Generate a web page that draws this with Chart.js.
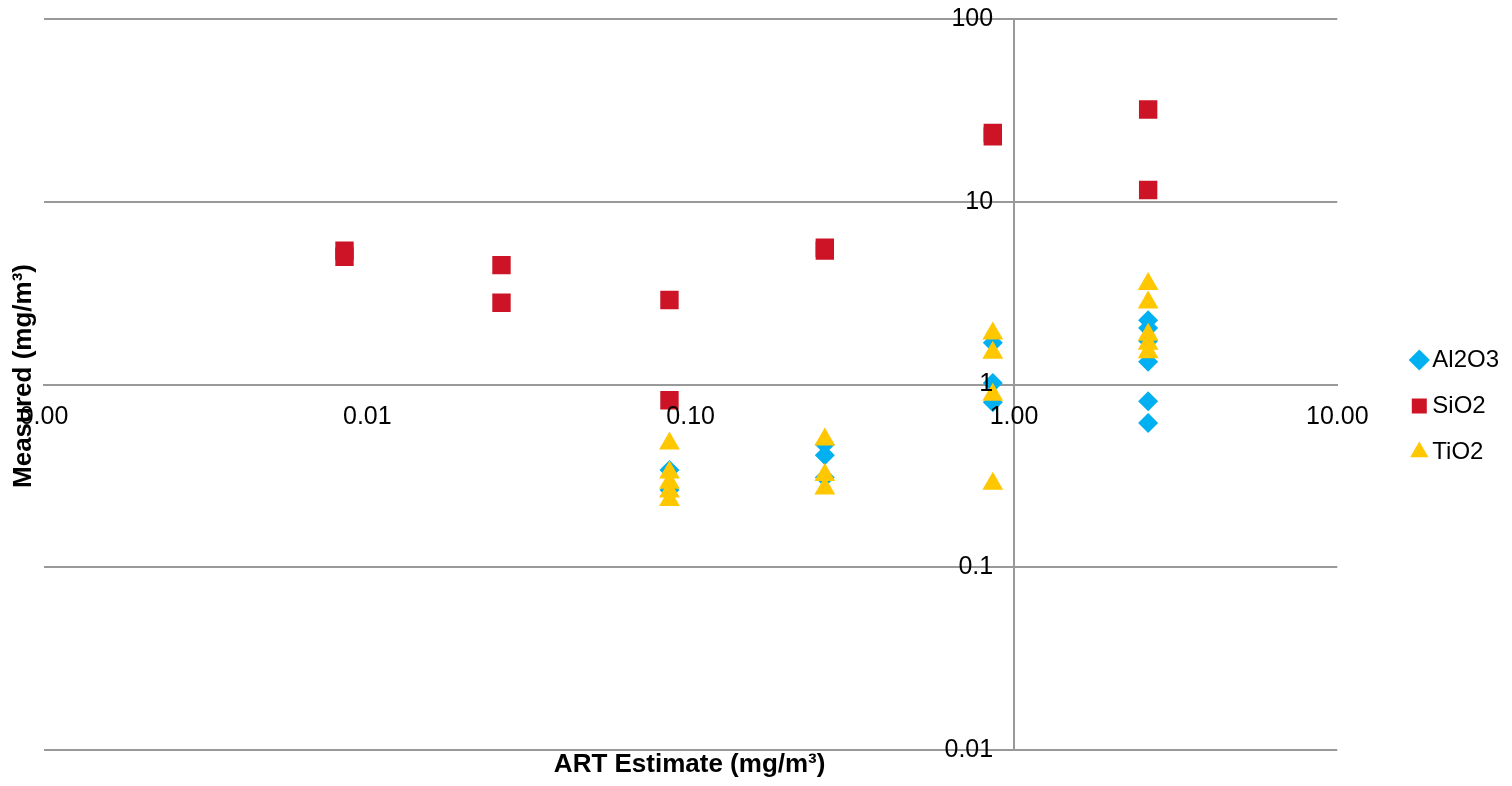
<!DOCTYPE html>
<html>
<head>
<meta charset="utf-8">
<title>ART Estimate vs Measured</title>
<script src="https://cdn.jsdelivr.net/npm/chart.js@4.4.0/dist/chart.umd.min.js"></script>
<style>
  html, body { margin: 0; padding: 0; background: #fff; }
  #wrap { width: 1512px; height: 786px; }
</style>
</head>
<body>
<div id="wrap"><canvas id="myChart"></canvas></div>
<script>
// ART estimate (x) and measured (y) values, mg/m3
const al2o3X = [0.086, 0.086, 0.26, 0.26, 0.26, 0.86, 0.86, 0.86, 2.6, 2.6, 2.6, 2.6, 2.6, 2.6];
const al2o3Y = [0.34, 0.265, 0.47, 0.41, 0.31, 1.69, 1.02, 0.80, 2.25, 2.04, 1.73, 1.33, 0.81, 0.615];

const sio2X = [0.0085, 0.0085, 0.026, 0.026, 0.086, 0.086, 0.26, 0.26, 0.86, 0.86, 2.6, 2.6];
const sio2Y = [5.4, 5.0, 4.5, 2.8, 2.9, 0.82, 5.6, 5.4, 23.8, 22.8, 32, 11.6];

const tio2X = [0.086, 0.086, 0.086, 0.086, 0.086, 0.26, 0.26, 0.26, 0.86, 0.86, 0.86, 0.86, 2.6, 2.6, 2.6, 2.6, 2.6];
const tio2Y = [0.475, 0.33, 0.29, 0.26, 0.233, 0.50, 0.32, 0.27, 1.90, 1.49, 0.88, 0.286, 3.55, 2.81, 1.87, 1.67, 1.50];

const xTicks = [0.001, 0.01, 0.1, 1, 10];
const xTickLabels = ['0.00', '0.01', '0.10', '1.00', '10.00'];
const yTicks = [0.01, 0.1, 1, 10, 100];
const yTickLabels = ['0.01', '0.1', '1', '10', '100'];

const xTitle = 'ART Estimate (mg/m³)';
const yTitle = 'Measured (mg/m³)';

const FONT = "'Liberation Sans', Arial, sans-serif";
Chart.defaults.font.family = FONT;
Chart.defaults.color = '#000';

function points(xs, ys) {
    return xs.map((x, i) => ({ x: x, y: ys[i] }));
}

// legend sits a bit away from the plot, like in the original
const legendShift = {
    id: 'legendShift',
    afterLayout(chart) {
        const lg = chart.legend;
        lg.left += 59;
        lg.right += 59;
        lg.top += 21.5;
        lg.bottom += 21.5;
    }
};

// axis titles drawn at the outer edges, since the axes cross at (1, 1)
const axisTitles = {
    id: 'axisTitles',
    afterDraw(chart) {
        const c = chart.ctx;
        const area = chart.chartArea;
        c.save();
        c.fillStyle = '#000';
        c.font = 'bold 26px ' + FONT;
        c.textAlign = 'center';
        c.textBaseline = 'middle';
        c.fillText(xTitle, (area.left + area.right) / 2 - 1, 765);
        c.translate(24, 376);
        c.rotate(-Math.PI / 2);
        c.fillText(yTitle, 0, 0);
        c.restore();
    }
};

const ctx = document.getElementById('myChart').getContext('2d');

let myChart = new Chart(ctx, {
    type: 'scatter',
    data: {
        datasets: [
            {
                label: 'Al2O3',
                data: points(al2o3X, al2o3Y),
                pointStyle: 'rectRot',
                pointRadius: 10,
                pointHoverRadius: 10,
                backgroundColor: '#00B0F0',
                pointBackgroundColor: '#00B0F0',
                pointBorderWidth: 0,
                borderWidth: 0,
                order: 2
            },
            {
                label: 'SiO2',
                data: points(sio2X, sio2Y),
                pointStyle: 'rect',
                pointRadius: 13,
                pointHoverRadius: 13,
                backgroundColor: '#CC1426',
                pointBackgroundColor: '#CC1426',
                pointBorderWidth: 0,
                borderWidth: 0,
                order: 1
            },
            {
                label: 'TiO2',
                data: points(tio2X, tio2Y),
                pointStyle: 'triangle',
                pointRadius: 12,
                pointHoverRadius: 12,
                backgroundColor: '#FFC700',
                pointBackgroundColor: '#FFC700',
                pointBorderWidth: 0,
                borderWidth: 0,
                order: 0
            }
        ]
    },
    options: {
        responsive: true,
        maintainAspectRatio: false,
        animation: false,
        layout: {
            padding: { left: 44, top: 19, bottom: 36, right: 62 }
        },
        plugins: {
            legend: {
                position: 'right',
                labels: {
                    usePointStyle: true,
                    boxWidth: 2,
                    boxHeight: 15,
                    padding: 22,
                    font: { size: 24 },
                    color: '#000',
                    sort: (a, b) => a.datasetIndex - b.datasetIndex
                }
            },
            tooltip: { enabled: false }
        },
        scales: {
            x: {
                type: 'logarithmic',
                position: { y: 1 },
                min: 0.001,
                max: 10,
                afterBuildTicks: (scale) => {
                    scale.ticks = xTicks.map(v => ({ value: v }));
                },
                grid: { display: false, drawTicks: false },
                border: { display: true, color: '#999', width: 2 },
                ticks: {
                    z: 1,
                    autoSkip: false,
                    maxRotation: 0,
                    minRotation: 0,
                    padding: 18,
                    font: { size: 25 },
                    color: '#000',
                    callback: (v, i) => xTickLabels[i]
                }
            },
            y: {
                type: 'logarithmic',
                position: { x: 1 },
                min: 0.01,
                max: 100,
                afterBuildTicks: (scale) => {
                    scale.ticks = yTicks.map(v => ({ value: v }));
                },
                grid: { color: '#999', lineWidth: 2, drawTicks: false },
                border: { display: true, color: '#999', width: 2 },
                ticks: {
                    z: 1,
                    autoSkip: false,
                    padding: 0,
                    font: { size: 25 },
                    color: '#000',
                    // labels sit right-aligned on the crossing axis; keep a gap from it
                    callback: (v, i) => yTickLabels[i] + '   '
                }
            }
        }
    },
    plugins: [legendShift, axisTitles]
});
</script>
</body>
</html>
